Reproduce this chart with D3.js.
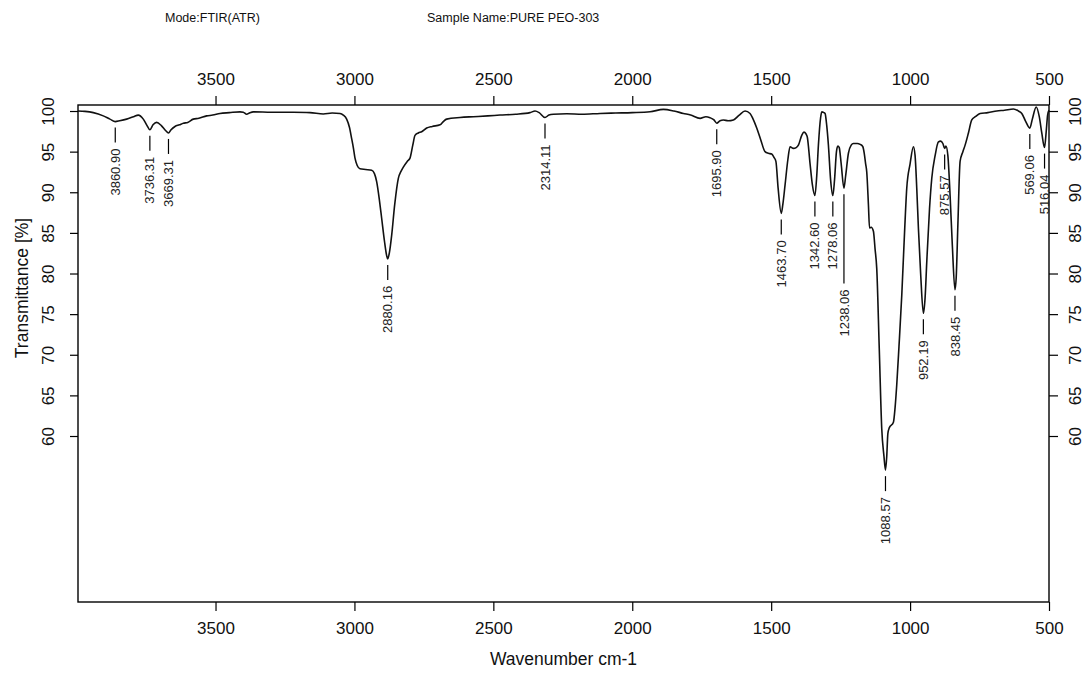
<!DOCTYPE html>
<html>
<head>
<meta charset="utf-8">
<script src="https://cdn.jsdelivr.net/npm/d3@7"></script>
<style>
  body { margin: 0; background: #fff; }
  svg { font-family: "Liberation Sans", Arial, sans-serif; }
  .axis path { display: none; }
  .axis line { stroke: #000; stroke-width: 1.2px; }
  .axis text { font-size: 17px; fill: #111; }
  .peak line { stroke: #000; stroke-width: 1.2px; }
  .peak text { font-size: 13px; fill: #222; }
</style>
</head>
<body>
<div id="chart"></div>
<script>

var xTicks = [3500, 3000, 2500, 2000, 1500, 1000, 500];
var yTicks = [60, 65, 70, 75, 80, 85, 90, 95, 100];

// wavenumber (cm-1), transmittance (%)
var spectrum = [
  [3995, 100.0], [3970, 99.95], [3940, 99.8], [3904, 99.4], [3880, 99.0],
  [3860.90, 98.7], [3845, 98.8], [3820, 99.0], [3795, 99.3], [3778, 99.5],
  [3760, 99.0], [3748, 98.3], [3736.31, 97.7], [3725, 98.3], [3712, 98.6],
  [3695, 98.2], [3680, 97.6], [3669.31, 97.3], [3660, 97.7], [3646, 98.1],
  [3630, 98.3], [3616, 98.5], [3600, 98.6], [3580, 99.0], [3560, 99.1],
  [3532, 99.4], [3510, 99.5], [3484, 99.7], [3450, 99.8], [3412, 99.9],
  [3400, 99.85], [3388, 99.6], [3376, 99.8], [3364, 99.9], [3300, 99.85],
  [3220, 99.84], [3160, 99.8], [3112, 99.63], [3080, 99.75], [3052, 99.7],
  [3040, 99.5], [3028, 99.0], [3018, 98.0], [3010, 96.6], [3004, 95.5],
  [2998, 94.2], [2990, 93.3], [2980, 92.9], [2960, 92.8], [2938, 92.7],
  [2928, 92.3], [2920, 91.3], [2910, 89.0], [2902, 86.8], [2892, 84.0],
  [2884, 82.2], [2880.16, 81.8], [2874, 82.6], [2866, 84.7], [2855, 88.5],
  [2842, 91.7], [2832, 92.6], [2824, 93.1], [2810, 93.8], [2800, 94.2],
  [2790, 95.8], [2782, 97.0], [2770, 97.3], [2758, 97.45], [2740, 97.9],
  [2720, 98.1], [2692, 98.3], [2680, 98.7], [2668, 99.0], [2620, 99.2],
  [2572, 99.3], [2520, 99.4], [2476, 99.5], [2420, 99.6], [2368, 99.8],
  [2350, 100.0], [2335, 99.8], [2314.11, 99.2], [2300, 99.5], [2284, 99.6],
  [2236, 99.67], [2180, 99.6], [2116, 99.7], [2060, 99.75], [2000, 99.8],
  [1936, 99.9], [1888, 100.2], [1850, 100.0], [1816, 99.7], [1790, 99.5],
  [1756, 99.1], [1735, 99.3], [1720, 99.17], [1706, 98.9], [1695.90, 98.5],
  [1684, 98.8], [1672, 98.9], [1655, 98.8], [1636, 98.9], [1615, 99.5],
  [1594, 100.0], [1576, 99.7], [1565, 99.0], [1552, 97.9], [1538, 96.5],
  [1522, 95.0], [1510, 94.8], [1498, 94.7], [1490, 94.3], [1483, 93.8],
  [1475, 90.5], [1463.70, 87.4], [1458, 88.5], [1450, 90.9], [1440, 94.0],
  [1432, 95.6], [1420, 95.4], [1410, 95.5], [1402, 95.8], [1390, 97.0],
  [1382, 97.4], [1375, 97.2], [1370, 96.8], [1360, 93.5], [1352, 91.0],
  [1342.60, 89.6], [1336, 92.0], [1330, 95.8], [1322, 99.2], [1318, 99.9],
  [1310, 99.8], [1306, 99.7], [1300, 98.2], [1294, 95.8], [1286, 91.5],
  [1278.06, 89.6], [1272, 91.5], [1265, 95.0], [1260, 95.7], [1255, 95.5],
  [1248, 93.5], [1238.06, 90.5], [1232, 92.0], [1222, 94.8], [1212, 95.8],
  [1204, 96.0], [1190, 96.0], [1180, 95.9], [1170, 95.6], [1165, 94.8],
  [1160, 93.5], [1156, 92.5], [1150, 88.5], [1146, 85.6], [1140, 85.7],
  [1132, 85.2], [1126, 83.0], [1120, 80.6], [1111, 70.8], [1102, 60.9],
  [1094, 57.5], [1088.57, 55.8], [1084, 57.5], [1080, 60.3], [1075, 61.0],
  [1060, 61.7], [1054, 63.5], [1048, 66.3], [1040, 71.0], [1030, 77.3],
  [1020, 85.0], [1012, 90.5], [1000, 93.5], [988, 95.6], [982, 94.5],
  [976, 90.5], [970, 85.55], [962, 80.0], [952.19, 75.1], [946, 77.0],
  [940, 81.4], [930, 88.0], [922, 91.7], [910, 94.5], [898, 96.2],
  [890, 96.3], [882, 96.0], [875.57, 95.4], [871, 95.7], [864, 94.5],
  [856, 89.6], [848, 83.5], [838.45, 78.0], [834, 79.5], [828, 86.0],
  [820, 93.8], [810, 95.0], [802, 95.8], [790, 97.3], [778, 98.9],
  [765, 99.3], [748, 99.7], [720, 99.8], [688, 100.0], [660, 100.1],
  [628, 100.25], [610, 100.0], [598, 99.7], [585, 98.8], [569.06, 97.9],
  [560, 99.0], [546, 100.5], [535, 99.3], [526, 97.3], [516.04, 95.5],
  [510, 97.5], [505, 99.5], [500, 100.1]
];

var peakWavenumber = [3860.90, 3736.31, 3669.31, 2880.16, 2314.11, 1695.90, 1463.70,
                      1342.60, 1278.06, 1238.06, 1088.57, 952.19, 875.57, 838.45,
                      569.06, 516.04];
var peakTransmittance = [98.7, 97.7, 97.3, 81.8, 99.2, 98.5, 87.4, 89.6, 89.6, 90.5,
                         55.8, 75.1, 95.4, 78.0, 97.9, 95.5];

var margin = {top: 105, right: 40, bottom: 71, left: 78},
    width = 1089 - margin.left - margin.right,
    height = 673 - margin.top - margin.bottom;

var x = d3.scaleLinear()
    .domain([3995, 500])
    .range([0, width]);

var y = d3.scaleLinear()
    .domain([39.57, 100.74])
    .range([height, 0]);

var root = d3.select("#chart").append("svg")
    .attr("width", 1089)
    .attr("height", 673);

root.append("rect")
    .attr("width", 1089)
    .attr("height", 673)
    .attr("fill", "#fff");

root.append("text")
    .attr("x", 165)
    .attr("y", 22)
    .style("font-size", "12.5px")
    .attr("fill", "#111")
    .text("Mode:FTIR(ATR)");

root.append("text")
    .attr("x", 427)
    .attr("y", 22)
    .style("font-size", "12.5px")
    .attr("fill", "#111")
    .text("Sample Name:PURE PEO-303");

var svg = root.append("g")
    .attr("transform", "translate(" + margin.left + "," + margin.top + ")");

// axes on all four sides
svg.append("g")
    .attr("class", "axis")
    .call(d3.axisTop(x).tickValues(xTicks).tickSize(9).tickPadding(11).tickFormat(d3.format("d")));

svg.append("g")
    .attr("class", "axis")
    .attr("transform", "translate(0," + height + ")")
    .call(d3.axisBottom(x).tickValues(xTicks).tickSize(9).tickPadding(11).tickFormat(d3.format("d")));

svg.append("g")
    .attr("class", "axis")
    .call(d3.axisLeft(y).tickValues(yTicks).tickSize(8))
  .selectAll("text")
    .attr("transform", "rotate(-90)")
    .attr("x", 0)
    .attr("y", -30)
    .attr("dy", "0.35em")
    .style("text-anchor", "middle");

svg.append("g")
    .attr("class", "axis")
    .attr("transform", "translate(" + width + ",0)")
    .call(d3.axisRight(y).tickValues(yTicks).tickSize(9))
  .selectAll("text")
    .attr("transform", "rotate(-90)")
    .attr("x", 0)
    .attr("y", 26)
    .attr("dy", "0.35em")
    .style("text-anchor", "middle");

svg.append("rect")
    .attr("width", width)
    .attr("height", height)
    .attr("fill", "none")
    .attr("stroke", "#000")
    .attr("stroke-width", 1.4);

svg.append("text")
    .attr("x", width / 2)
    .attr("y", height + 63)
    .style("text-anchor", "middle")
    .style("font-size", "17.5px")
    .attr("fill", "#111")
    .text("Wavenumber cm-1");

svg.append("text")
    .attr("transform", "translate(" + (22 - margin.left) + "," + (288 - margin.top) + ") rotate(-90)")
    .attr("dy", "0.35em")
    .style("text-anchor", "middle")
    .style("font-size", "17.5px")
    .attr("fill", "#111")
    .text("Transmittance [%]");

var line = d3.line()
    .x(function(d) { return x(d[0]); })
    .y(function(d) { return y(d[1]); })
    .curve(d3.curveMonotoneX);

svg.append("path")
    .datum(spectrum)
    .attr("fill", "none")
    .attr("stroke", "#111")
    .attr("stroke-width", 1.6)
    .attr("stroke-linejoin", "round")
    .attr("d", line);

// peak labels, pushed down when they would run into the previous one
var peaks = svg.append("g").attr("class", "peak");
var prev = null;

peakWavenumber.forEach(function(wn, i) {
  var px = x(wn),
      py = y(peakTransmittance[i]),
      top = py + 27;

  var label = peaks.append("text")
      .attr("dy", "0.35em")
      .style("text-anchor", "end")
      .text(wn.toFixed(2));
  var len = label.node().getComputedTextLength();

  if (prev && Math.abs(px - prev.x) < 13 && top < prev.bottom + 4) {
    top = prev.bottom + 20;
  }

  label.attr("transform", "translate(" + px + "," + top + ") rotate(-90)");

  peaks.append("line")
      .attr("x1", px)
      .attr("x2", px)
      .attr("y1", py + 6)
      .attr("y2", top - 6);

  prev = {x: px, bottom: top + len};
});

</script>
</body>
</html>
